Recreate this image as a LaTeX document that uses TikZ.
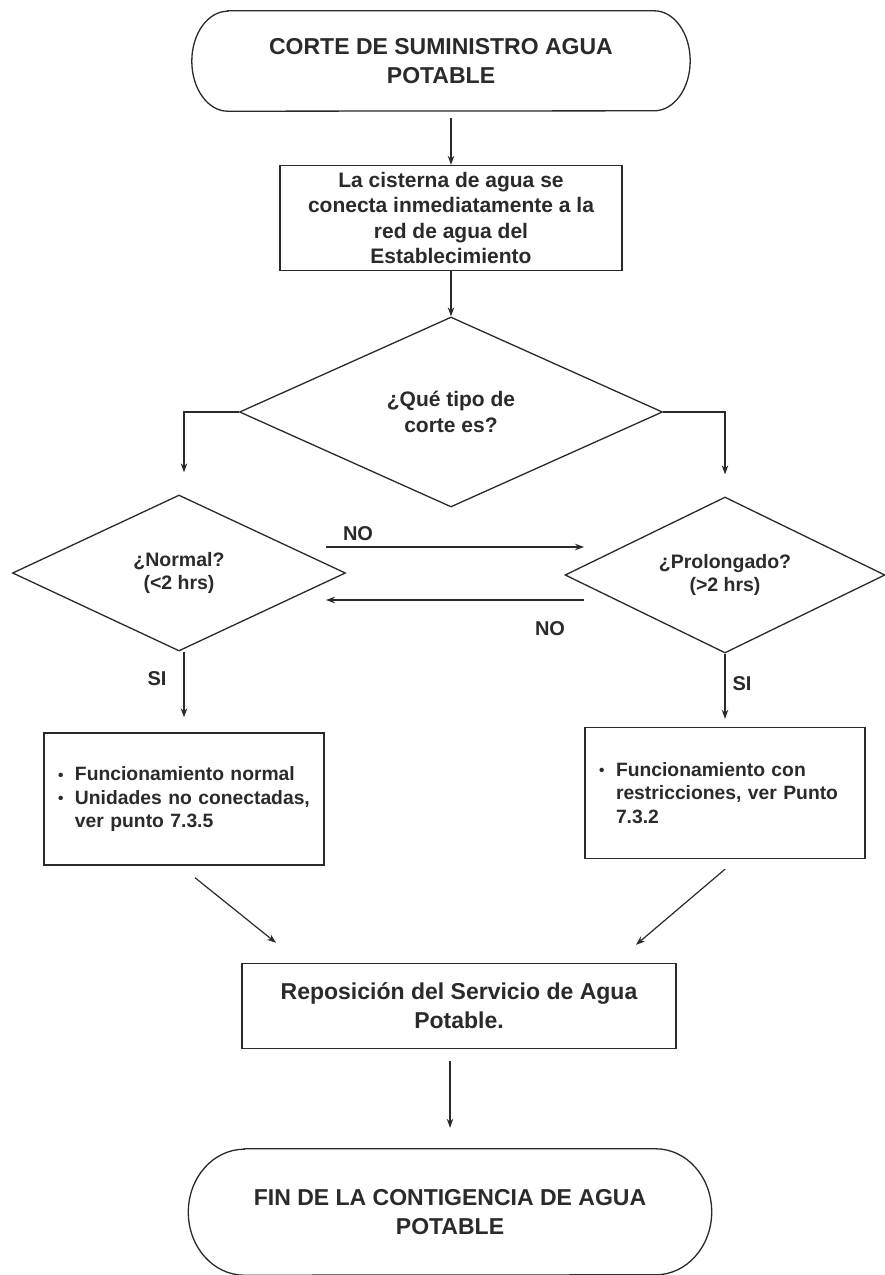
\documentclass[tikz,border=0pt]{standalone}
\usepackage{fontspec}
\setmainfont{Liberation Sans}
\usetikzlibrary{shapes.geometric,arrows.meta}
\definecolor{ink}{HTML}{2A2A2A}
\newcommand\bulmark{\makebox[17pt][l]{\raisebox{0.5pt}{\scalebox{0.8}{\textbullet}}}}
\tikzset{
  ln/.style={draw=ink, line width=1.3pt},
  arr/.style={draw=ink, line width=1.2pt, -{Stealth[length=9pt,width=6.5pt]}},
  boxnode/.style={rectangle, draw=ink, line width=1.4pt, inner sep=0pt, align=center, text=ink},
  decnode/.style={diamond, draw=ink, line width=1.3pt, inner sep=2pt, shape aspect=2.2, align=center, text=ink},
  termtext/.style={inner sep=0pt, align=center, text=ink},
  lbl/.style={text=ink, inner sep=0pt, font=\bfseries\fontsize{20}{24}\selectfont},
  bigfont/.style={font=\bfseries\fontsize{23}{29}\selectfont},
  midfont/.style={font=\bfseries\fontsize{21}{25.5}\selectfont},
  smallfont/.style={font=\bfseries\fontsize{19.3}{23.5}\selectfont},
  decfont/.style={font=\bfseries\fontsize{19.5}{22.5}\selectfont},
}
\begin{document}
\begin{tikzpicture}[x=1pt,y=-1pt]
\fill[white] (0,0) rectangle (885,1275);
\useasboundingbox (0,0) rectangle (885,1275);

% start terminator
\node[termtext, bigfont, minimum width=498pt, minimum height=100pt] (start) at (441,61) {CORTE DE SUMINISTRO AGUA\\POTABLE};
\draw[ln] ([xshift=36pt]start.north west) -- ([xshift=-36pt]start.north east)
  arc[start angle=90, end angle=-90, x radius=36pt, y radius=50pt]
  -- ([xshift=36pt]start.south west)
  arc[start angle=270, end angle=90, x radius=36pt, y radius=50pt] -- cycle;

% first process box
\node[boxnode, midfont, minimum width=342pt, minimum height=105pt] (box1) at (451,218)
  {La cisterna de agua se\\conecta inmediatamente a la\\red de agua del\\Establecimiento};

% decisions
\node[decnode, midfont, minimum width=423pt, minimum height=190pt] (d0) at (451,412) {¿Qué tipo de\\corte es?};
\node[decnode, decfont, minimum width=333pt, minimum height=156pt] (dn) at (179,573) {¿Normal?\\(<2 hrs)};
\node[decnode, decfont, minimum width=320pt, minimum height=156pt] (dp) at (725,575) {¿Prolongado?\\(>2 hrs)};

% result boxes
\node[boxnode, smallfont, align=left, minimum width=280pt, minimum height=132pt, inner xsep=14pt, text width=252pt] (bl) at (184,799)
  {\hyphenpenalty=10000\relax\bulmark Funcionamiento normal\\\bulmark Unidades no conectadas,\\\hspace*{17pt}ver punto 7.3.5};
\node[boxnode, smallfont, align=left, minimum width=280pt, minimum height=131pt, inner xsep=14pt, text width=252pt] (br) at (725,793)
  {\hyphenpenalty=10000\relax\bulmark Funcionamiento con\\\hspace*{17pt}restricciones, ver Punto\\\hspace*{17pt}7.3.2};

% reposicion
\node[boxnode, bigfont, minimum width=434pt, minimum height=85pt] (rep) at (459,1006)
  {Reposición del Servicio de Agua\\Potable.};

% end terminator
\node[termtext, bigfont, minimum width=523pt, minimum height=126pt] (fin) at (450,1212) {FIN DE LA CONTIGENCIA DE AGUA\\POTABLE};
\draw[ln] ([xshift=56pt]fin.north west) -- ([xshift=-56pt]fin.north east)
  arc[start angle=90, end angle=-90, x radius=56pt, y radius=63pt]
  -- ([xshift=56pt]fin.south west)
  arc[start angle=270, end angle=90, x radius=56pt, y radius=63pt] -- cycle;

% connectors
\draw[arr, shorten <=7pt] (start.south -| box1.north) -- (box1.north);
\draw[arr] (box1.south) -- (d0.north);
\draw[arr, shorten >=22pt] (d0.west) -| (bl.north |- dn.north);
\draw[arr, shorten >=22pt] (d0.east) -| (dp.north);

\coordinate (no1s) at (326,547);
\coordinate (no1e) at (584,547);
\coordinate (no2s) at (584,600);
\coordinate (no2e) at (326,600);
\draw[arr] (no1s) -- (no1e);
\draw[arr] (no2s) -- (no2e);
\node[lbl] (lno1) at (358,534) {NO};
\node[lbl] (lno2) at (550,629) {NO};

\draw[arr, shorten >=15pt] (bl.north |- dn.south) -- (bl.north);
\draw[arr, shorten >=8pt] (dp.south) -- (br.north);
\node[lbl] (lsi1) at (157,679) {SI};
\node[lbl] (lsi2) at (742,684) {SI};

\draw[arr] ([xshift=11pt,yshift=-12pt]bl.south) -- ([xshift=-183pt,yshift=20pt]rep.north);
\draw[arr] ([yshift=-10pt]br.south) -- ([xshift=177pt,yshift=18pt]rep.north);

\draw[arr, shorten <=12pt, shorten >=21pt] (rep.south -| fin.north) -- (fin.north);
\end{tikzpicture}
\end{document}
